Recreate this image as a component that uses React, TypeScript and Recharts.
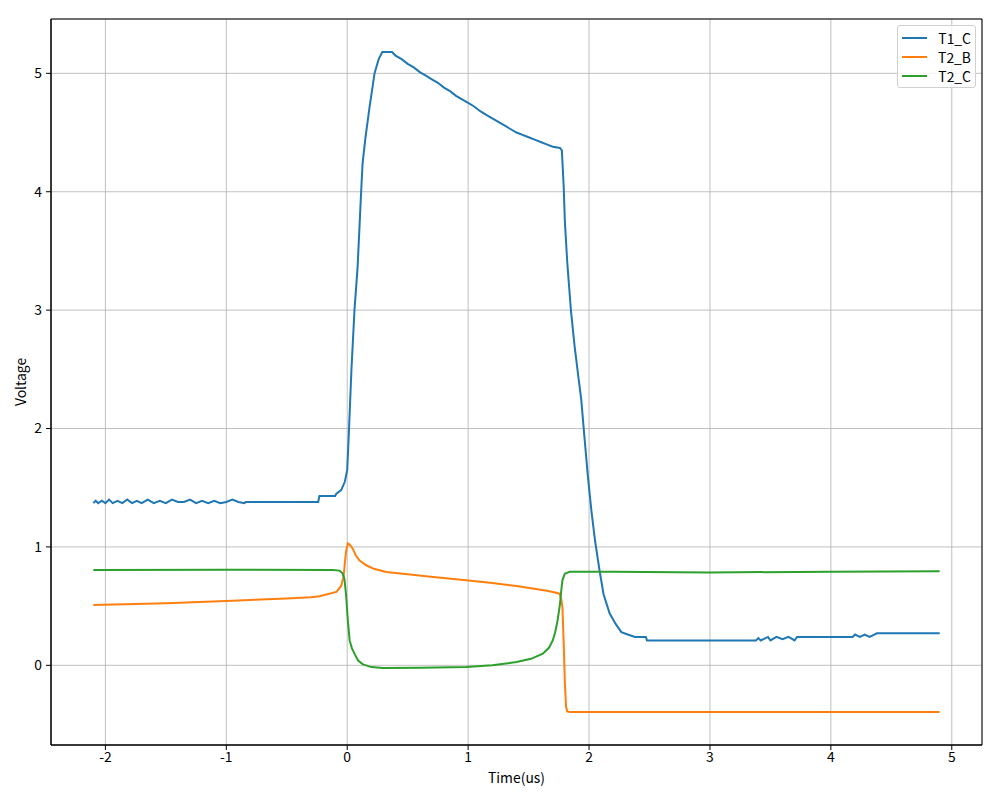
import { LineChart, Line, XAxis, YAxis, CartesianGrid, ReferenceArea } from 'recharts';

const FONT = '"Noto Sans CJK SC", "DejaVu Sans", sans-serif';

const xTicks = [-2, -1, 0, 1, 2, 3, 4, 5];
const yTicks = [0, 1, 2, 3, 4, 5];
const xDomain = [-2.45, 5.25];
const yDomain = [-0.673, 5.459];

const t1cTime = [
    -2.1, -2.08, -2.06, -2.03, -2.0, -1.97, -1.94, -1.9, -1.86, -1.82, -1.78, -1.74, -1.7, -1.65, -1.6,
    -1.55, -1.5, -1.45, -1.4, -1.35, -1.3, -1.25, -1.2, -1.15, -1.1, -1.05, -1.0, -0.95, -0.9, -0.85, -0.84,
    -0.24, -0.23, -0.1, -0.09, -0.05, -0.02, 0.0, 0.015, 0.035, 0.06, 0.085, 0.1, 0.115, 0.127, 0.15, 0.184,
    0.226, 0.26, 0.29, 0.37, 0.4, 0.45, 0.5, 0.55, 0.6, 0.65, 0.7, 0.75, 0.8, 0.85, 0.9, 0.95, 1.0, 1.05,
    1.1, 1.15, 1.2, 1.25, 1.3, 1.35, 1.4, 1.45, 1.5, 1.55, 1.6, 1.65, 1.7, 1.76, 1.775, 1.79, 1.8, 1.82,
    1.85, 1.88, 1.91, 1.936, 1.96, 1.99, 2.02, 2.05, 2.087, 2.12, 2.17, 2.22, 2.267, 2.32, 2.38, 2.47,
    2.48, 3.38, 3.4, 3.42, 3.48, 3.5, 3.55, 3.6, 3.65, 3.7, 3.72, 4.18, 4.2, 4.24, 4.28, 4.32, 4.36, 4.38,
    4.9,
];
const t1cVolt = [
    1.37, 1.39, 1.37, 1.39, 1.37, 1.4, 1.37, 1.39, 1.37, 1.4, 1.37, 1.39, 1.37, 1.4, 1.37,
    1.39, 1.37, 1.4, 1.38, 1.38, 1.4, 1.37, 1.39, 1.37, 1.39, 1.37, 1.38, 1.4, 1.38, 1.37, 1.38,
    1.38, 1.43, 1.43, 1.45, 1.48, 1.55, 1.65, 2.0, 2.5, 3.0, 3.35, 3.67, 4.0, 4.24, 4.45, 4.71,
    5.0, 5.12, 5.18, 5.18, 5.15, 5.12, 5.08, 5.05, 5.01, 4.98, 4.95, 4.92, 4.88, 4.85, 4.81, 4.78, 4.75, 4.72,
    4.68, 4.65, 4.62, 4.59, 4.56, 4.53, 4.5, 4.48, 4.46, 4.44, 4.42, 4.4, 4.38, 4.37, 4.35, 4.05, 3.75, 3.4,
    3.0, 2.7, 2.45, 2.24, 1.95, 1.6, 1.3, 1.05, 0.8, 0.6, 0.44, 0.35, 0.28, 0.26, 0.24, 0.24,
    0.21, 0.21, 0.23, 0.21, 0.24, 0.21, 0.24, 0.22, 0.24, 0.21, 0.24, 0.24, 0.26, 0.24, 0.26, 0.24, 0.26, 0.27,
    0.27,
];

const t2bTime = [
    -2.1, -1.5, -1.0, -0.5, -0.3, -0.23, -0.09, -0.05, -0.03, -0.02, -0.01, 0.005, 0.02, 0.046, 0.07, 0.1,
    0.157, 0.22, 0.322, 0.5, 0.71, 0.984, 1.2, 1.4, 1.535, 1.65, 1.72, 1.756, 1.77, 1.78, 1.79, 1.8, 1.81,
    1.82, 1.84, 4.9,
];
const t2bVolt = [
    0.51, 0.525, 0.543, 0.565, 0.575, 0.583, 0.62, 0.67, 0.75, 0.86, 0.96, 1.03, 1.02, 0.985, 0.93, 0.887,
    0.845, 0.815, 0.788, 0.77, 0.746, 0.718, 0.695, 0.67, 0.648, 0.63, 0.615, 0.605, 0.56, 0.49, 0.2, -0.15, -0.35,
    -0.39, -0.394, -0.394,
];

const t2cTime = [
    -2.1, -1.0, -0.12, -0.064, -0.04, -0.023, -0.01, 0.005, 0.02, 0.04, 0.06, 0.09, 0.13, 0.2, 0.294, 0.6,
    0.984, 1.2, 1.4, 1.52, 1.618, 1.67, 1.7, 1.72, 1.74, 1.76, 1.77, 1.78, 1.8, 1.84, 2.2, 3.0, 4.0, 4.9,
];
const t2cVolt = [
    0.805, 0.808, 0.805, 0.8, 0.78, 0.73, 0.6, 0.38, 0.21, 0.14, 0.099, 0.04, 0.008, -0.015, -0.023, -0.02,
    -0.014, 0.0, 0.028, 0.055, 0.099, 0.15, 0.21, 0.28, 0.38, 0.52, 0.63, 0.72, 0.774, 0.79, 0.79, 0.785, 0.79, 0.795,
];

const toPoints = (time: number[], volt: number[]) => time.map((t, i) => ({ t, v: volt[i] }));

const SERIES = [
    { name: 'T1_C', color: '#1f77b4', data: toPoints(t1cTime, t1cVolt) },
    { name: 'T2_B', color: '#ff7f0e', data: toPoints(t2bTime, t2bVolt) },
    { name: 'T2_C', color: '#2ca02c', data: toPoints(t2cTime, t2cVolt) },
];

const tickStyle = { fill: '#000', fontSize: 13.9, fontFamily: FONT };

function LegendBox() {
    return (
        <div
            style={{
                position: 'absolute',
                left: 897,
                top: 25,
                width: 79,
                boxSizing: 'border-box',
                background: 'rgba(255,255,255,0.8)',
                border: '1px solid #d0d0d0',
                borderRadius: 3,
                padding: '2px 4px',
                fontFamily: FONT,
                fontSize: 13.9,
                color: '#000',
            }}
        >
            {SERIES.map(s => (
                <div key={s.name} style={{ display: 'flex', alignItems: 'center', height: 19 }}>
                    <div style={{ width: 30, height: 2, background: s.color, marginRight: 11 }} />
                    <span>{s.name}</span>
                </div>
            ))}
        </div>
    );
}

export default function App() {
    return (
        <div style={{ position: 'absolute', left: 0, top: 0, width: 1000, height: 800, background: '#fff' }}>
            <LineChart width={1000} height={800} margin={{ top: 19, right: 18, bottom: 15, left: 0 }}>
                <CartesianGrid stroke="#b0b0b0" strokeWidth={0.8} />
                <XAxis
                    dataKey="t"
                    type="number"
                    domain={xDomain}
                    ticks={xTicks}
                    allowDataOverflow
                    height={40}
                    tick={tickStyle}
                    tickSize={5}
                    tickMargin={2}
                    tickLine={{ stroke: '#000' }}
                    axisLine={{ stroke: '#000' }}
                    label={{ value: 'Time(us)', position: 'insideBottom', offset: 2, fill: '#000', fontSize: 13.9, fontFamily: FONT }}
                />
                <YAxis
                    type="number"
                    domain={yDomain}
                    ticks={yTicks}
                    allowDataOverflow
                    width={51}
                    tick={tickStyle}
                    tickSize={5}
                    tickMargin={4}
                    tickLine={{ stroke: '#000' }}
                    axisLine={{ stroke: '#000' }}
                    label={{
                        content: ({ viewBox }: any) => {
                            const cy = viewBox.y + viewBox.height / 2;
                            return (
                                <text
                                    x={20}
                                    y={cy}
                                    transform={`rotate(-90, 20, ${cy})`}
                                    textAnchor="middle"
                                    dominantBaseline="central"
                                    fill="#000"
                                    fontSize={13.9}
                                    fontFamily={FONT}
                                >
                                    Voltage
                                </text>
                            );
                        },
                    }}
                />
                <ReferenceArea
                    x1={xDomain[0]}
                    x2={xDomain[1]}
                    y1={yDomain[0]}
                    y2={yDomain[1]}
                    fill="none"
                    stroke="#000"
                    strokeWidth={1}
                    fillOpacity={0}
                />
                {SERIES.map(s => (
                    <Line
                        key={s.name}
                        name={s.name}
                        data={s.data}
                        dataKey="v"
                        type="linear"
                        stroke={s.color}
                        strokeWidth={2}
                        dot={false}
                        activeDot={false}
                        isAnimationActive={false}
                    />
                ))}
            </LineChart>
            <LegendBox />
        </div>
    );
}
